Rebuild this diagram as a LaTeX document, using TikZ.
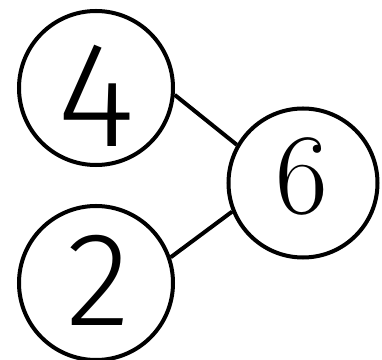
\documentclass[tikz,border=0pt]{standalone}
\usepackage{fontspec}
\newfontfamily\handfont{Fira Sans Light}
\usetikzlibrary{positioning}

\tikzset{
  numcircle/.style={draw, circle, line width=0.12cm, inner sep=0pt},
  numlink/.style={line width=0.12cm},
  numtext/.style={inner sep=0pt},
}

\begin{document}
\begin{tikzpicture}[x=0.03cm,y=0.03cm]
  \useasboundingbox (0,0) rectangle (382,360);
  \clip (0,0) rectangle (382,360);

  % the two parts and the whole
  \node[numcircle, minimum size=4.62cm] (four) at (96,272) {};
  \node[numcircle, minimum size=4.62cm] (two) at (96,77) {};
  \node[numcircle, minimum size=4.47cm] (six) at (303,177) {};

  \node[numtext] (fourtext) at (96,264)
    {\handfont\fontsize{128}{128}\selectfont 4};
  \node[numtext] (twotext) at (98,80)
    {\handfont\fontsize{114}{114}\selectfont 2};
  \node[numtext] (sixtext) at (302,184)
    {\fontsize{98}{98}\selectfont 6};

  \draw[numlink] (four.-5) -- (six.150);
  \draw[numlink] (two.19) -- (six.202);
\end{tikzpicture}
\end{document}
